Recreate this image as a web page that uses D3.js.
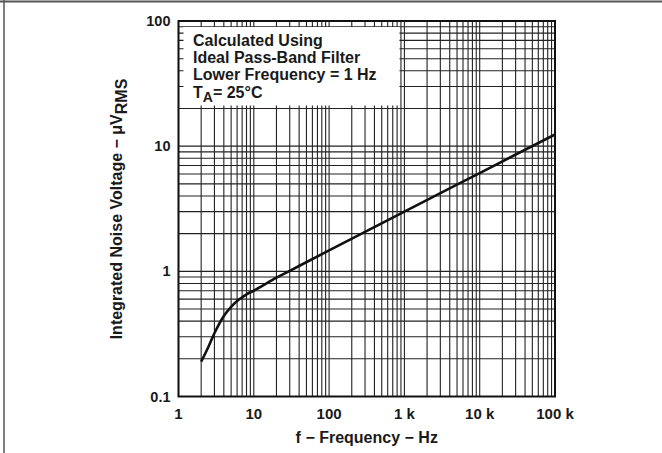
<!DOCTYPE html>
<html><head><meta charset="utf-8">
<script src="https://cdn.jsdelivr.net/npm/d3@7"></script>
<style>
html,body{margin:0;padding:0;background:#fff;}
svg{display:block;}
text{font-family:"Liberation Sans",Arial,Helvetica,sans-serif;font-weight:bold;fill:#1a1a1a;}
</style></head>
<body>
<svg id="chart" width="662" height="453"></svg>
<script>
// ---- data ----
const freqHz = [2, 2.5, 3, 4, 5, 6, 7, 8, 10, 20, 30, 100, 1000, 10000, 100000];
const noiseUV = [0.19, 0.25, 0.32, 0.44, 0.52, 0.58, 0.62, 0.655, 0.70, 0.89, 1.01, 1.47, 3.0, 6.1, 12.4];
const xTickValues = [1, 10, 100, 1000, 10000, 100000];
const xTickLabels = ["1", "10", "100", "1 k", "10 k", "100 k"];
const yTickValues = [0.1, 1, 10, 100];
const yTickLabels = ["0.1", "1", "10", "100"];
const legendLines = ["Calculated Using", "Ideal Pass-Band Filter", "Lower Frequency = 1 Hz"];

const svg = d3.select("#chart");
const L = 178.5, R = 555, T = 21, B = 396.5;
const x = d3.scaleLog().domain([1, 1e5]).range([L, R]);
const y = d3.scaleLog().domain([0.1, 100]).range([B, T]);

// outer partial frame
svg.append("line").attr("x1",0).attr("x2",662).attr("y1",1.5).attr("y2",1.5).attr("stroke","#555").attr("stroke-width",2);
svg.append("line").attr("x1",4).attr("x2",4).attr("y1",0).attr("y2",453).attr("stroke","#555").attr("stroke-width",1.5);

// grid
const g = svg.append("g");
g.selectAll("line.vx").data(x.ticks()).join("line").attr("class","vx")
  .attr("x1",d=>x(d)).attr("x2",d=>x(d)).attr("y1",T).attr("y2",B)
  .attr("stroke","#222").attr("stroke-width",1.1);
g.selectAll("line.hy").data(y.ticks()).join("line").attr("class","hy")
  .attr("y1",d=>y(d)).attr("y2",d=>y(d)).attr("x1",L).attr("x2",R)
  .attr("stroke","#222").attr("stroke-width",1.1);

// legend box (white, covering grid)
svg.append("rect").attr("x",L+5).attr("y",T+6).attr("width",x(900)-1.5-(L+5)).attr("height",y(20)-3-(T+6))
  .attr("fill","#fff");
const leg = svg.append("g").attr("font-size",16);
legendLines.forEach((t,i)=>{
  leg.append("text").attr("x",193).attr("y",46+i*17.2).text(t);
});
const ta = leg.append("text").attr("x",193).attr("y",97.6);
ta.append("tspan").text("T");
ta.append("tspan").attr("dy",4).attr("font-size",14).text("A");
ta.append("tspan").attr("dy",-4).text("= 25°C");

// curve
const line = d3.line().x((d,i)=>x(freqHz[i])).y((d,i)=>y(noiseUV[i])).curve(d3.curveMonotoneX);
svg.append("path").datum(noiseUV).attr("d",line).attr("fill","none")
  .attr("stroke","#111").attr("stroke-width",2.6).attr("stroke-linejoin","round");

// plot border
svg.append("rect").attr("x",L).attr("y",T).attr("width",R-L).attr("height",B-T)
  .attr("fill","none").attr("stroke","#111").attr("stroke-width",2);

// axes labels
const xa = svg.append("g").attr("font-size",15).attr("text-anchor","middle");
xTickValues.forEach((v,i)=>{
  xa.append("text").attr("x",x(v)).attr("y",419).text(xTickLabels[i]);
});
const ya = svg.append("g").attr("font-size",14.5).attr("text-anchor","end");
yTickValues.forEach((v,i)=>{
  ya.append("text").attr("x",170.5).attr("y",y(v)+5).text(yTickLabels[i]);
});

svg.append("text").attr("x",(L+R)/2).attr("y",443).attr("text-anchor","middle").attr("font-size",16)
  .text("f − Frequency − Hz");

const yt = svg.append("text").attr("transform","translate(122,209) rotate(-90)")
  .attr("text-anchor","middle").attr("font-size",16);
yt.append("tspan").text("Integrated Noise Voltage − μV");
yt.append("tspan").attr("dy",5).attr("font-size",16).text("RMS");
</script>
</body></html>
